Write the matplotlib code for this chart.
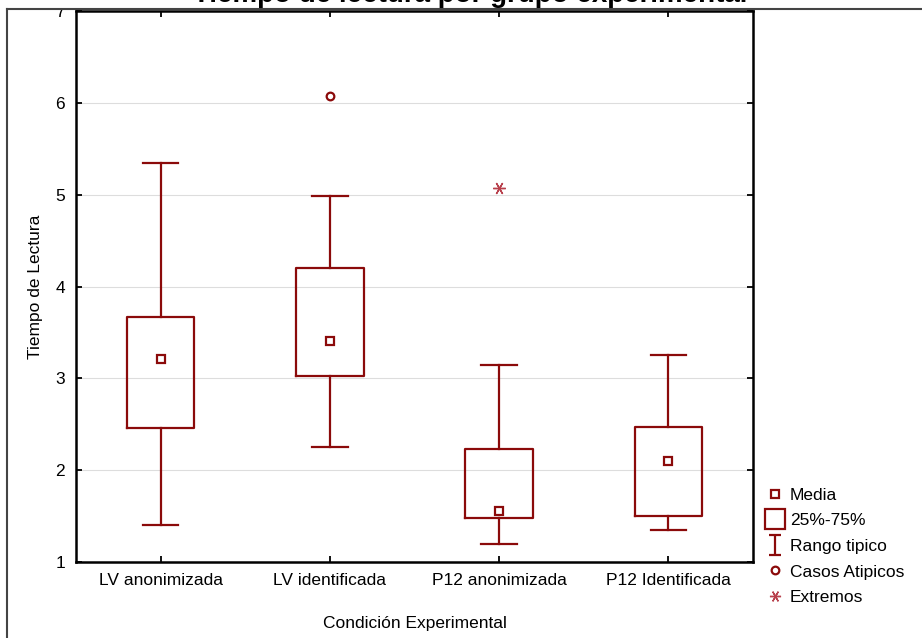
import matplotlib
matplotlib.use("Agg")
import matplotlib.pyplot as plt
from matplotlib.lines import Line2D
from matplotlib.patches import Rectangle
from matplotlib.path import Path

plt.rcParams['font.family'] = ['Liberation Sans', 'DejaVu Sans']

# data
grupos = ["LV anonimizada", "LV identificada", "P12 anonimizada", "P12 Identificada"]
q1 = [2.46, 3.03, 1.48, 1.50]
q3 = [3.67, 4.20, 2.23, 2.47]
medias = [3.21, 3.41, 1.55, 2.10]
whis_lo = [1.40, 2.25, 1.20, 1.35]
whis_hi = [5.35, 4.99, 3.15, 3.25]
atipicos = [[], [6.07], [], []]
extremos = [[], [], [5.07], []]

rojo = "#8b0a0a"
rojo_claro = "#b8404c"
fs = 12.5

fig = plt.figure(figsize=(9.22, 6.38), dpi=100)
ax = fig.add_axes([76 / 922, 1 - 562 / 638, 677 / 922, 551 / 638])

stats = []
for i in range(len(grupos)):
    stats.append({
        "label": grupos[i],
        "q1": q1[i], "q3": q3[i], "med": q1[i],
        "mean": medias[i],
        "whislo": whis_lo[i], "whishi": whis_hi[i],
        "fliers": atipicos[i],
    })

pos = list(range(1, len(grupos) + 1))
ax.bxp(stats, positions=pos, widths=0.4, showmeans=True, patch_artist=False,
       boxprops=dict(color=rojo, linewidth=1.6),
       whiskerprops=dict(color=rojo, linewidth=1.6),
       capprops=dict(color=rojo, linewidth=1.6),
       capwidths=0.21,
       medianprops=dict(linewidth=0),
       meanprops=dict(marker="s", markerfacecolor="white", markeredgecolor=rojo,
                      markersize=6, markeredgewidth=1.6),
       flierprops=dict(marker="o", markerfacecolor="white", markeredgecolor=rojo,
                       markersize=5.5, markeredgewidth=1.6))

ext_marker = (6, 2, 90)
for i, vals in enumerate(extremos):
    if vals:
        ax.plot([pos[i]] * len(vals), vals, linestyle="none", marker=ext_marker,
                color=rojo_claro, markersize=9, markeredgewidth=1.0)

ax.set_xlim(0.5, 4.5)
ax.set_ylim(1, 7)
ax.set_yticks(range(1, 8))
ax.set_xticks(pos)
ax.set_xticklabels(grupos)
ax.yaxis.grid(True, color="#dddddd", linewidth=0.8)
ax.set_axisbelow(True)
for s in ax.spines.values():
    s.set_linewidth(1.8)
ax.tick_params(direction="in", length=4, width=1.3, top=True, right=True,
               labelsize=fs, pad=8)

ax.set_xlabel("Condición Experimental", fontsize=fs, labelpad=20)
ax.set_ylabel("Tiempo de Lectura", fontsize=fs, labelpad=9)

# legend
I_path = Path([(-0.6, 1), (0.6, 1), (0, 1), (0, -1), (-0.6, -1), (0.6, -1)],
              [Path.MOVETO, Path.LINETO, Path.MOVETO, Path.LINETO, Path.MOVETO, Path.LINETO])
handles = [
    Line2D([], [], linestyle="none", marker="s", markerfacecolor="white",
           markeredgecolor=rojo, markersize=6, markeredgewidth=1.6),
    Line2D([], [], linestyle="none", marker="s", markerfacecolor="white",
           markeredgecolor=rojo, markersize=14, markeredgewidth=1.6),
    Line2D([], [], linestyle="none", marker=I_path, markerfacecolor="none",
           markeredgecolor=rojo, markersize=14, markeredgewidth=1.6),
    Line2D([], [], linestyle="none", marker="o", markerfacecolor="white",
           markeredgecolor=rojo, markersize=5.5, markeredgewidth=1.6),
    Line2D([], [], linestyle="none", marker=ext_marker, color=rojo_claro,
           markersize=8, markeredgewidth=1.0),
]
etiquetas = ["Media", "25%-75%", "Rango tipico", "Casos Atipicos", "Extremos"]
fig.legend(handles, etiquetas, loc="upper left",
           bbox_to_anchor=(758 / 922, 1 - 479 / 638), frameon=False,
           fontsize=fs, handlelength=1.0, handletextpad=0.35,
           labelspacing=0.6, borderpad=0)

# cropped frame and title
fig.add_artist(Rectangle((0, 1 - 9 / 638), 1, 9 / 638, transform=fig.transFigure,
                         facecolor="white", edgecolor="none", zorder=5))
fig.add_artist(Line2D([7 / 922, 1], [1 - 9 / 638, 1 - 9 / 638], transform=fig.transFigure,
                      color="#444444", linewidth=1.5, zorder=6))
fig.add_artist(Line2D([7 / 922, 7 / 922], [0, 1 - 9 / 638], transform=fig.transFigure,
                      color="#444444", linewidth=1.5, zorder=6))
fig.text(470 / 922, 1 - 1.5 / 638, "Tiempo de lectura por grupo experimental",
         ha="center", va="baseline", fontsize=20, fontweight="bold", zorder=7)

fig.savefig("out.png", dpi=100)
